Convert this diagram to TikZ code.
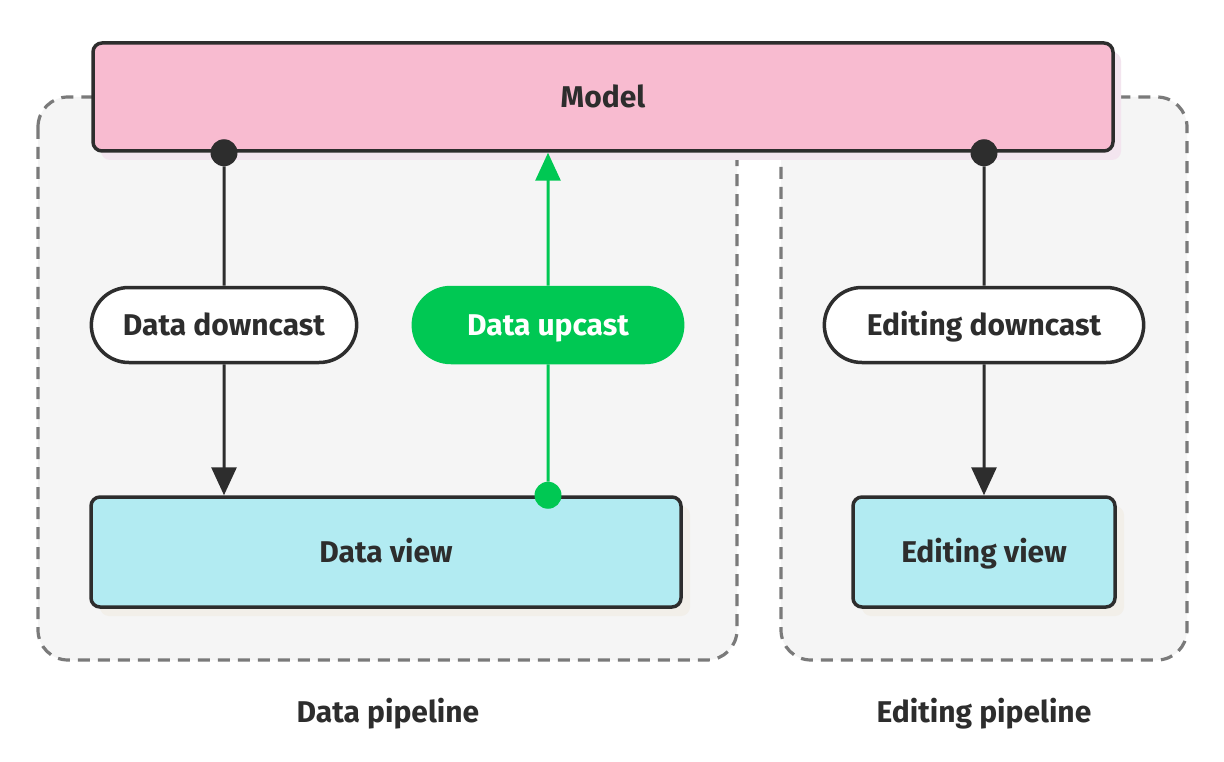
\documentclass[tikz,border=0pt]{standalone}
\usepackage{fontspec}
\setmainfont{Fira Sans}
\usepackage{xcolor}
\usepackage{tikz}
\usetikzlibrary{positioning,%
  arrows.meta,%
  shapes.misc,%
  shadows
}
\definecolor{ink}{HTML}{2D2D2D}
\definecolor{dashgray}{HTML}{7A7A7A}
\definecolor{regionfill}{HTML}{F5F5F5}
\definecolor{modelpink}{HTML}{F8BBD0}
\definecolor{pinkshade}{HTML}{F3E5EF}
\definecolor{viewcyan}{HTML}{B2EBF2}
\definecolor{beigeshade}{HTML}{F2EFE9}
\definecolor{upgreen}{HTML}{00C853}

\begin{document}
\begin{tikzpicture}
            [
                x=1pt,y=-1pt,
                font=\fontsize{30}{36}\selectfont\bfseries,
                every node/.style={text height=23pt,text depth=2pt},
                region/.style={draw=dashgray,fill=regionfill,line width=3.2pt,
                    dash pattern=on 12pt off 8pt,rounded corners=30pt},
                card/.style={draw=ink,line width=3.5pt,rounded corners=9pt,
                    text=ink,minimum height=110pt},
                pill/.style={rounded rectangle,minimum height=75pt,
                    line width=3.5pt,draw=ink,fill=white,text=ink},
                dot/.style={circle,fill=ink,inner sep=0pt,minimum size=27pt,
                    text height=,text depth=},
                conn/.style={draw=ink,line width=3pt},
                tip/.style={-{Triangle[width=25pt,length=28pt]}}
            ]
            
            \fill[white] (0,0) rectangle (1224,762);
            \useasboundingbox (0,0) rectangle (1224,762);
            
            % pipelines
            \draw[region] (38,97) rectangle (737,660);
            \draw[region] (781,97) rectangle (1187,660);
            \node[text=ink] (dpipe) at (388,712) {Data pipeline};
            \node[text=ink] (epipe) at (984,712) {Editing pipeline};
            
            % model and views
            \node[card,fill=modelpink,minimum width=1020pt,minimum height=108pt,
                general shadow={fill=pinkshade,shadow xshift=8pt,shadow yshift=-9pt}]
                (model) at (603,97) {Model};
            \node[card,fill=viewcyan,minimum width=590pt,
                general shadow={fill=beigeshade,shadow xshift=9pt,shadow yshift=-9pt}]
                (dview) at (386,552) {Data view};
            \node[card,fill=viewcyan,minimum width=262pt,
                general shadow={fill=beigeshade,shadow xshift=9pt,shadow yshift=-9pt}]
                (eview) at (984,552) {Editing view};
            
            % casts
            \node[pill,minimum width=272pt] (ddown) at (224,325) {Data downcast};
            \node[pill,minimum width=276pt,draw=upgreen,fill=upgreen,text=white]
                (dup) at (548,325) {Data upcast};
            \node[pill,minimum width=326pt] (edown) at (984,325) {Editing downcast};
            
            \node[dot] (ddot) at (model.south -| ddown) {};
            \node[dot] (edot) at (model.south -| edown) {};
            \node[dot,fill=upgreen] (udot) at (dview.north -| dup) {};
            
            \draw[conn] (ddot) -- (ddown);
            \draw[conn,tip] (ddown) -- (dview.north -| ddown);
            \draw[conn] (edot) -- (edown);
            \draw[conn,tip] (edown) -- (eview.north -| edown);
            \draw[conn,draw=upgreen] (udot) -- (dup);
            \draw[conn,draw=upgreen,tip] (dup) -- (model.south -| dup);
        \end{tikzpicture}
\end{document}
